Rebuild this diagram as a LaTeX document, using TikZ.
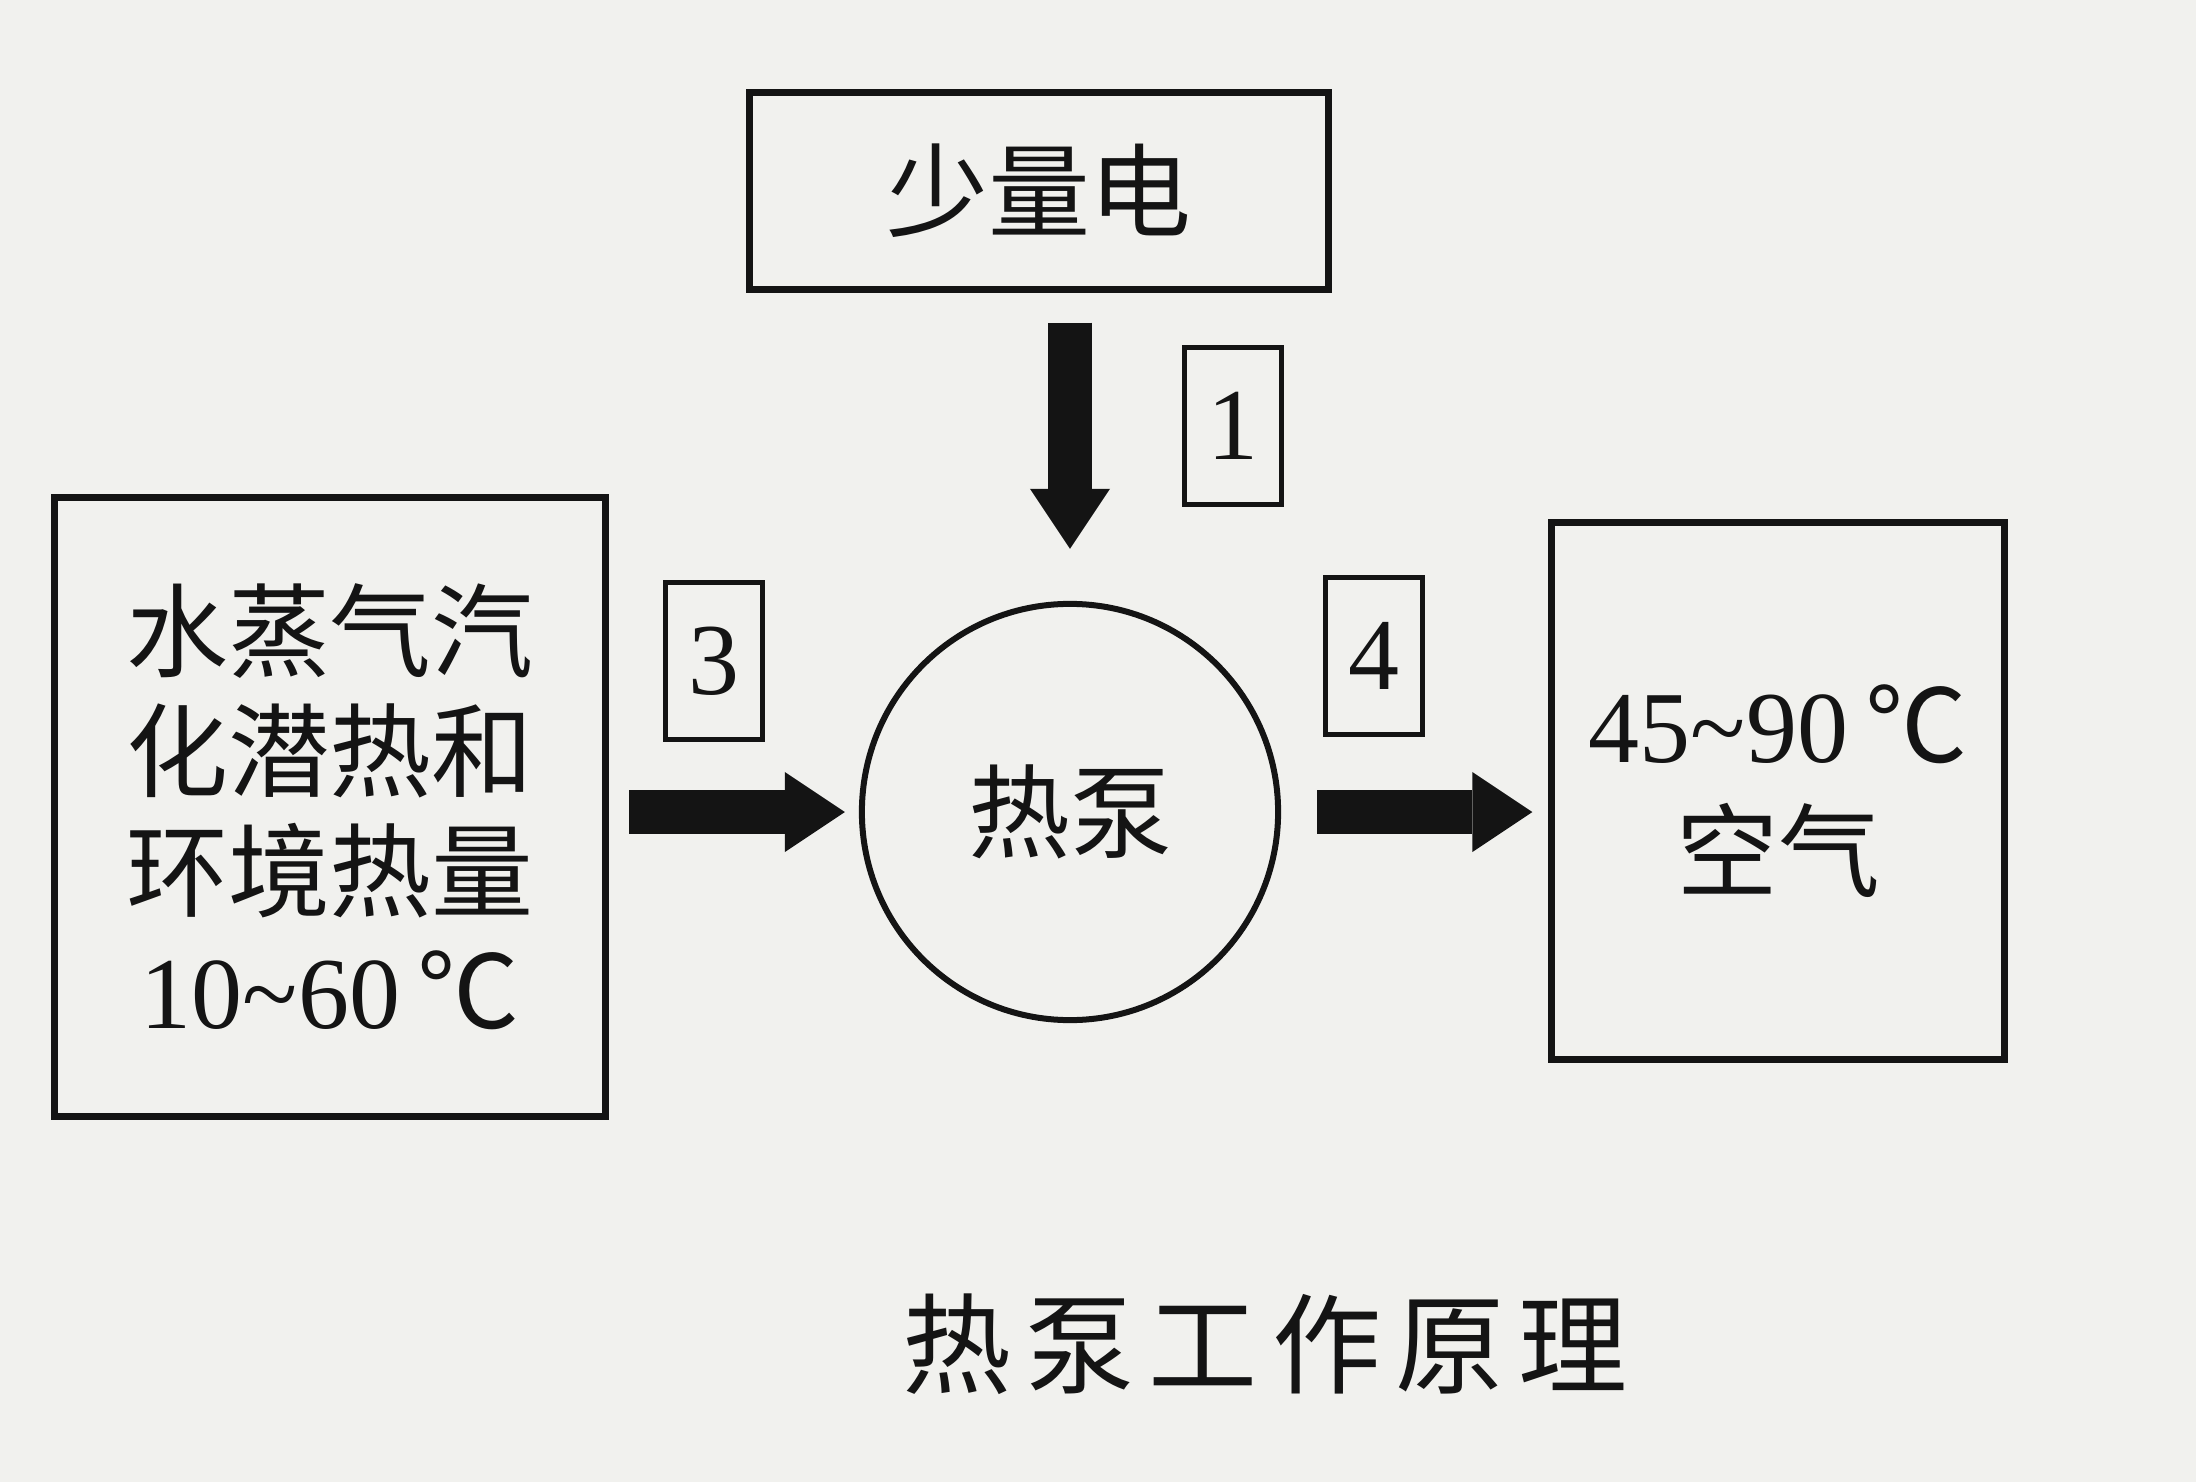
\documentclass[tikz,border=0pt]{standalone}
\usepackage{fontspec}
\setmainfont{Liberation Serif}
\newfontfamily\cjk{Noto Sans CJK SC}
\usetikzlibrary{arrows.meta}
\definecolor{paper}{HTML}{F1F1EE}
\definecolor{ink}{HTML}{141414}
\tikzset{
    box/.style={draw=ink, text=ink, line width=0.07cm, inner sep=0pt, align=center,
        font=\cjk\fontsize{29}{34}\selectfont},
    numbox/.style={draw=ink, text=ink, line width=0.05cm, inner sep=0pt,
        minimum width=0.97cm, minimum height=1.56cm, font=\fontsize{29}{34}\selectfont},
    fatarrow/.style={draw=ink, line width=0.44cm,
        -{Triangle[length=0.6cm, width=0.8cm, line width'=0pt, fill=ink]}},
}

\begin{document}
\begin{tikzpicture}[x=0.01cm, y=-0.01cm]
        \fill [paper] (0,0) rectangle (2196,1482);
        \useasboundingbox (0,0) rectangle (2196,1482);
        \node [box, minimum width=5.78cm, minimum height=1.96cm] (power) at (1039, 191) {少量电};
        \node [box, minimum width=5.51cm, minimum height=6.19cm] (source) at (330, 807)
            {水蒸气汽\\化潜热和\\环境热量\\{\rmfamily 10\textasciitilde60}\,℃};
        \node [draw=ink, text=ink, circle, line width=0.06cm, minimum size=4.16cm,
            font=\cjk\fontsize{29}{34}\selectfont] (pump) at (1070, 812) {热泵};
        \node [box, minimum width=4.52cm, minimum height=5.37cm,
            font=\cjk\fontsize{29}{36}\selectfont] (air) at (1778, 791)
            {{\rmfamily 45\textasciitilde90}\,℃\\空气};
        \node [numbox] (n1) at (1233, 426) {1};
        \node [numbox] (n3) at (714, 661) {3};
        \node [numbox] (n4) at (1374, 656) {4};
        \draw [fatarrow, shorten <=0.3cm, shorten >=0.52cm] (pump.north |- power.south) -- (pump.north);
        \draw [fatarrow, shorten <=0.2cm, shorten >=0.14cm] (source.east |- pump.west) -- (pump.west);
        \draw [fatarrow, shorten <=0.36cm, shorten >=0.16cm] (pump.east) -- (pump.east -| air.west);
        \node [text=ink, font=\cjk\fontsize{31}{36}\selectfont] (caption) at (1265, 1344)
            {热\hspace{0.13em}泵\hspace{0.13em}工\hspace{0.13em}作\hspace{0.13em}原\hspace{0.13em}理};
    \end{tikzpicture}
\end{document}
